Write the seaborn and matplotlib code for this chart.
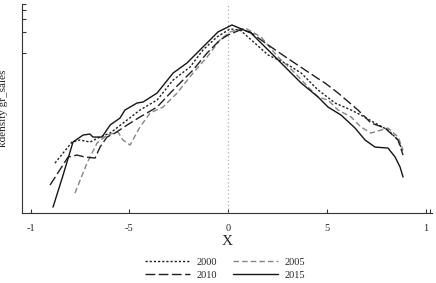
import numpy as np
import pandas as pd
import matplotlib
matplotlib.use("Agg")
import matplotlib.pyplot as plt
import seaborn as sns

years = ["2000", "2005", "2010", "2015"]

x_2000 = [-0.876, -0.790, -0.749, -0.699, -0.648, -0.597, -0.511, -0.446, -0.359, -0.278, -0.192, -0.127, -0.056,
          0.010, 0.061, 0.203, 0.289, 0.370, 0.456, 0.542, 0.623, 0.673, 0.744, 0.810, 0.861, 0.886]
y_2000 = [0.50, 0.71, 0.73, 0.71, 0.76, 0.80, 0.93, 1.03, 1.13, 1.33, 1.46, 1.63, 1.76,
          1.84, 1.83, 1.58, 1.50, 1.40, 1.23, 1.10, 1.03, 0.98, 0.90, 0.83, 0.73, 0.61]

x_2005 = [-0.775, -0.714, -0.663, -0.613, -0.557, -0.532, -0.496, -0.446, -0.395, -0.329, -0.258, -0.177, -0.106,
          -0.041, 0.010, 0.086, 0.167, 0.253, 0.339, 0.405, 0.456, 0.506, 0.557, 0.623, 0.673, 0.724, 0.775,
          0.810, 0.861, 0.886]
y_2005 = [0.20, 0.50, 0.70, 0.78, 0.81, 0.73, 0.68, 0.86, 1.00, 1.06, 1.20, 1.40, 1.56,
          1.73, 1.81, 1.85, 1.76, 1.56, 1.40, 1.26, 1.16, 1.13, 1.03, 0.96, 0.86, 0.80, 0.83,
          0.85, 0.76, 0.63]

x_2010 = [-0.901, -0.810, -0.765, -0.724, -0.673, -0.648, -0.613, -0.572, -0.511, -0.446, -0.359, -0.278, -0.177,
          -0.106, -0.041, 0.0, 0.061, 0.111, 0.203, 0.299, 0.451, 0.491, 0.557, 0.658, 0.724, 0.795, 0.861, 0.886]
y_2010 = [0.28, 0.56, 0.58, 0.56, 0.55, 0.66, 0.76, 0.80, 0.88, 0.96, 1.06, 1.23, 1.43,
          1.60, 1.73, 1.78, 1.83, 1.81, 1.68, 1.55, 1.35, 1.30, 1.20, 1.03, 0.90, 0.85, 0.73, 0.58]

x_2015 = [-0.886, -0.835, -0.785, -0.734, -0.699, -0.684, -0.638, -0.597, -0.547, -0.522, -0.461, -0.430, -0.359,
          -0.278, -0.208, -0.127, -0.051, 0.020, 0.116, 0.203, 0.289, 0.370, 0.456, 0.506, 0.572, 0.643, 0.694,
          0.744, 0.810, 0.846, 0.871, 0.886]
y_2015 = [0.06, 0.38, 0.71, 0.78, 0.79, 0.76, 0.76, 0.88, 0.95, 1.03, 1.10, 1.11, 1.20,
          1.40, 1.50, 1.66, 1.81, 1.88, 1.80, 1.63, 1.46, 1.30, 1.16, 1.06, 0.98, 0.85, 0.73,
          0.66, 0.65, 0.56, 0.46, 0.36]

x_ticks = [-1, -0.5, 0, 0.5, 1]
x_ticklabels = ["-1", "-5", "0", "5", "1"]
y_ticks = [1.60, 1.81, 1.94, 2.03, 2.09]

frames = []
for yr, xs, ys in zip(years, [x_2000, x_2005, x_2010, x_2015], [y_2000, y_2005, y_2010, y_2015]):
    frames.append(pd.DataFrame({"x": xs, "density": ys, "year": yr}))
df = pd.concat(frames, ignore_index=True)

sns.set_style("white")
plt.rcParams["font.family"] = ["Liberation Serif", "DejaVu Serif"]

palette = {"2000": "#202020", "2005": "#858585", "2010": "#202020", "2015": "#151515"}
dashes = {"2000": (1.6, 1.4), "2005": (4, 2.2), "2010": (7, 2.5), "2015": ""}

fig = plt.figure(figsize=(4.36, 2.83), dpi=100)
ax = fig.add_axes([0.0505, 0.247, 0.9405, 0.739])

ax.axvline(0, color="#b0b0b0", lw=0.9, ls=(0, (1, 2)))
sns.lineplot(data=df, x="x", y="density", hue="year", style="year", palette=palette, dashes=dashes,
             estimator=None, sort=False, lw=1.0, ax=ax)

ax.set_xlim(-1.043, 1.033)
ax.set_ylim(0, 2.09)
ax.set_xticks(x_ticks)
ax.set_xticklabels(x_ticklabels)
ax.set_xticks([1.025], minor=True)
ax.set_yticks(y_ticks)
ax.set_yticklabels([])
ax.tick_params(axis="both", which="both", direction="in", length=3, width=0.8, color="#333333",
               labelsize=7.5, pad=8, bottom=True, left=True)
for s in ["top", "right"]:
    ax.spines[s].set_visible(False)
for s in ["left", "bottom"]:
    ax.spines[s].set_color("#333333")
    ax.spines[s].set_linewidth(0.8)

ax.set_xlabel("X", fontsize=11, labelpad=1)
ax.set_ylabel("kdensity gr_sales", fontsize=8)
ax.yaxis.set_label_coords(-0.033, 0.5)

handles, labels = ax.get_legend_handles_labels()
order = [labels.index(k) for k in ["2000", "2010", "2005", "2015"]]
ax.get_legend().remove()
fig.legend([handles[i] for i in order], [labels[i] for i in order], loc="center",
           bbox_to_anchor=(0.516, 0.05), ncol=2, frameon=False, fontsize=7.5,
           handlelength=4.3, columnspacing=1.6, labelspacing=0.35, handletextpad=0.6)

fig.savefig("out.png", dpi=100)
